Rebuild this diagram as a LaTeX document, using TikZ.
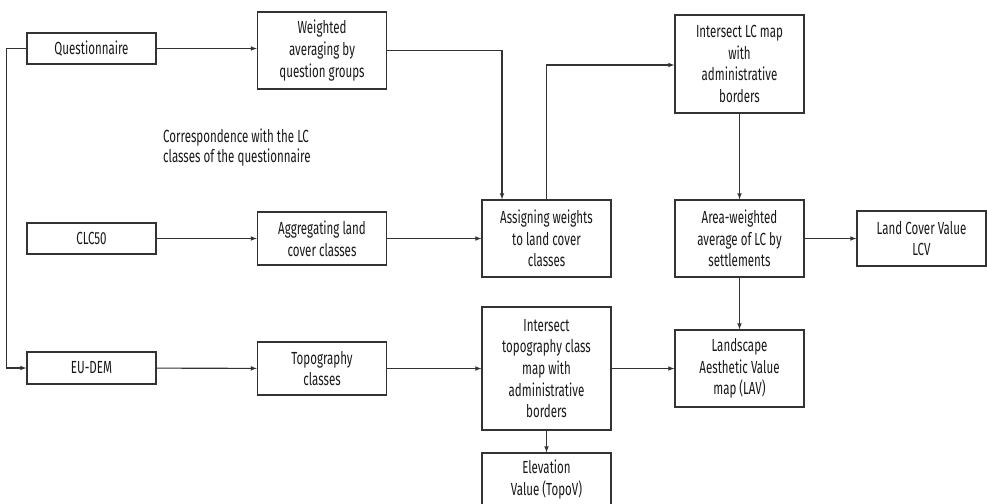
\documentclass[tikz,border=0pt]{standalone}
\usepackage{fontspec}
\setmainfont{Fira Sans}[FakeStretch=0.66]
\usepackage{tikz}
\tikzset{>=latex,
    procbox/.style={draw=black!80, line width=1.3pt, text=black!90, align=center,
      minimum width=129pt, inner sep=0pt, font=\fontsize{17.5}{21.7}\selectfont},
    flow/.style={->, draw=black!80, line width=1.1pt}}
\usetikzlibrary{calc}

\begin{document}
\begin{tikzpicture}[x=1pt, y=-1pt]
  \clip (0, 0) rectangle (987, 503);
  \useasboundingbox (0, 0) rectangle (987, 503);
  % Inputs
  \node[procbox, minimum height=31pt] (quest) at (91.5, 48.5) {Questionnaire};
  \node[procbox, minimum height=31pt] (clc) at (91.5, 238.5) {CLC50};
  \node[procbox, minimum height=32pt] (eudem) at (91.5, 368) {EU-DEM};
  % Second column
  \node[procbox, minimum height=77pt] (wavg) at (322, 50.5) {Weighted\\averaging by\\question groups};
  \node[procbox, minimum height=53pt] (aggr) at (322, 238.5) {Aggregating land\\cover classes};
  \node[procbox, minimum height=53pt] (topo) at (322, 368.5) {Topography\\classes};
  \node[align=left, anchor=north west, text=black!90, inner sep=0pt,
    font=\fontsize{17.5}{20}\selectfont] (note) at (163, 129)
    {Correspondence with the LC\\classes of the questionnaire};
  % Third column
  \node[procbox, minimum height=77pt] (assign) at (546.5, 238.5) {Assigning weights\\to land cover\\classes};
  \node[procbox, minimum height=123pt] (inttopo) at (546.5, 368.5) {Intersect\\topography class\\map with\\administrative\\borders};
  \node[procbox, minimum height=53pt] (elev) at (546.5, 479.5) {Elevation\\Value (TopoV)};
  % Fourth column
  \node[procbox, minimum height=98pt] (intlc) at (739.5, 64) {Intersect LC map\\with\\administrative\\borders};
  \node[procbox, minimum height=77pt] (areaw) at (739.5, 238.5) {Area-weighted\\average of LC by\\settlements};
  \node[procbox, minimum height=77pt] (lav) at (739.5, 368.5) {Landscape\\Aesthetic Value\\map (LAV)};
  \node[procbox, minimum height=55pt] (lcv) at (921.5, 238.5) {Land Cover Value\\LCV};
  % Connectors
  \draw[flow] (quest.east) -- (quest.east -| wavg.west);
  \draw[flow] (quest.west) -- ++(-20, 0) |- (eudem.west);
  \draw[flow] (clc) -- (aggr);
  \draw[flow] (aggr) -- (assign);
  \draw[flow] (eudem) -- (topo);
  \draw[flow] (topo) -- (inttopo);
  \draw[flow] (wavg.east) -| ([xshift=-44.5pt]assign.north);
  \draw[flow] (assign.north) |- ([yshift=-1pt]intlc.west);
  \draw[flow] (intlc) -- (areaw);
  \draw[flow] (areaw) -- (lcv);
  \draw[flow] (areaw) -- (lav);
  \draw[flow] (inttopo) -- (lav);
  \draw[flow] (inttopo) -- (elev);
\end{tikzpicture}
\end{document}
